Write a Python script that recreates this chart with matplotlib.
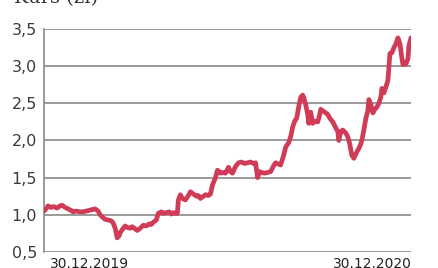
import numpy as np
from matplotlib import pyplot as plt

# days since 30.12.2019 and share price (zł)
days = [0, 2, 4, 7, 10, 13, 16, 18, 21, 24, 27, 29, 32, 36, 39, 42, 45, 48, 51, 54,
        56, 59, 61, 64, 67, 69, 71, 73, 75, 76, 78, 81, 83, 86, 88, 91, 93, 96, 99, 102,
        105, 107, 109, 112, 114, 117, 119, 122, 125, 127, 129, 131, 133, 134, 136, 138, 141, 144, 146, 149,
        152, 154, 156, 159, 161, 164, 166, 168, 171, 173, 175, 176, 179, 181, 184, 186, 188, 191, 194, 197,
        200, 203, 206, 209, 211, 212, 213, 215, 217, 220, 223, 226, 229, 231, 234, 236, 239, 241, 244, 246,
        248, 250, 252, 254, 256, 258, 259, 261, 263, 264, 266, 268, 270, 273, 275, 276, 278, 281, 283, 285,
        288, 291, 293, 294, 296, 298, 301, 303, 305, 307, 309, 311, 313, 315, 317, 319, 321, 323, 324, 326,
        328, 330, 332, 334, 336, 337, 339, 341, 343, 344, 345, 347, 349, 351, 353, 355, 357, 358, 361, 363,
        364, 366]
price = [1.05, 1.08, 1.12, 1.10, 1.11, 1.09, 1.12, 1.13, 1.10, 1.08, 1.06, 1.04, 1.05, 1.04, 1.04, 1.05, 1.06, 1.07, 1.08, 1.05,
         1.00, 0.96, 0.94, 0.93, 0.92, 0.89, 0.82, 0.69, 0.72, 0.76, 0.80, 0.85, 0.83, 0.82, 0.84, 0.81, 0.79, 0.82, 0.86, 0.85,
         0.88, 0.87, 0.90, 0.93, 1.02, 1.04, 1.02, 1.03, 1.04, 1.01, 1.03, 1.02, 1.02, 1.20, 1.27, 1.22, 1.20, 1.26, 1.31, 1.28,
         1.25, 1.26, 1.22, 1.25, 1.27, 1.26, 1.28, 1.40, 1.50, 1.60, 1.58, 1.56, 1.57, 1.56, 1.64, 1.58, 1.56, 1.65, 1.70, 1.71,
         1.69, 1.70, 1.71, 1.69, 1.70, 1.60, 1.50, 1.58, 1.57, 1.56, 1.57, 1.58, 1.66, 1.70, 1.68, 1.67, 1.80, 1.91, 1.97, 2.05,
         2.18, 2.26, 2.30, 2.45, 2.58, 2.61, 2.58, 2.48, 2.35, 2.23, 2.38, 2.23, 2.26, 2.25, 2.35, 2.42, 2.40, 2.37, 2.35, 2.30,
         2.25, 2.17, 2.12, 2.00, 2.12, 2.14, 2.10, 2.05, 1.95, 1.80, 1.76, 1.82, 1.87, 1.92, 2.00, 2.14, 2.30, 2.40, 2.55, 2.48,
         2.37, 2.42, 2.45, 2.50, 2.59, 2.70, 2.64, 2.72, 2.81, 3.00, 3.17, 3.18, 3.25, 3.30, 3.38, 3.30, 3.10, 3.02, 3.03, 3.10,
         3.28, 3.38]
yticks = [0.5, 1.0, 1.5, 2.0, 2.5, 3.0, 3.5]
date_labels = ["30.12.2019", "30.12.2020"]

narrow = ["Liberation Sans Narrow", "DejaVu Sans"]

fig = plt.figure(figsize=(4.39, 2.68), dpi=100)
ax = fig.add_axes([0.1002, 0.0597, 0.836, 0.8323])

ax.plot(days, price, color="#d03b58", linewidth=3.4, solid_joinstyle="round",
        solid_capstyle="round", zorder=3)

ax.set_ylim(0.5, 3.5)
ax.set_xlim(0, 366)
ax.set_yticks(yticks)
ax.set_yticklabels([f"{t:.1f}".replace(".", ",") for t in yticks], family=narrow)
ax.set_xticks([])
ax.grid(axis="y", color="#8a8a8a", linewidth=1.2)
ax.set_axisbelow(True)
for s in ["top", "right", "bottom"]:
    ax.spines[s].set_visible(False)
ax.spines["left"].set_color("#8a8a8a")
ax.spines["left"].set_linewidth(1.2)
ax.tick_params(axis="y", length=0, pad=5, labelsize=11.5, labelcolor="#3a3a3a")

fig.text(0.114, 1 - 257 / 268, date_labels[0], ha="left", va="top", fontsize=10,
         family=narrow, color="#222222")
fig.text(0.9385, 1 - 257 / 268, date_labels[1], ha="right", va="top", fontsize=10,
         family=narrow, color="#222222")
fig.text(0.032, 1 - 3 / 268, "Kurs (zł)", ha="left", va="baseline", fontsize=14,
         family="DejaVu Serif", color="#333333")

plt.savefig("out.png", dpi=100)
